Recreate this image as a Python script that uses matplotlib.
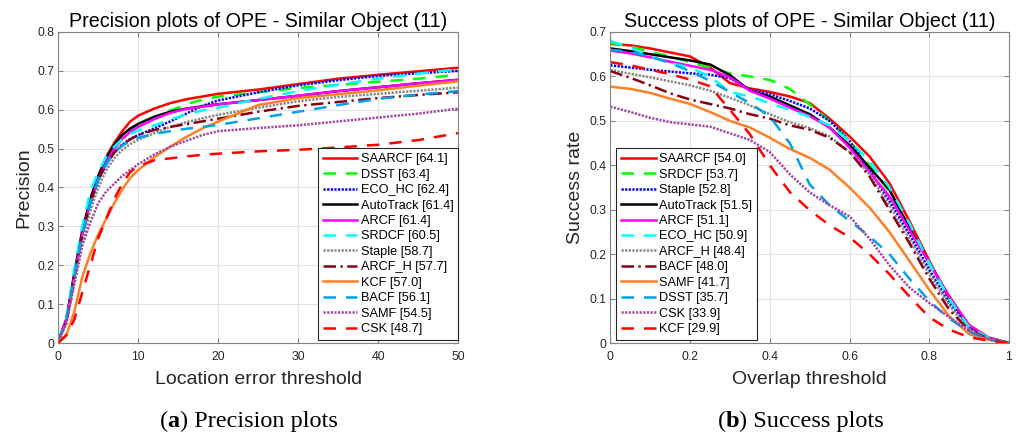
import matplotlib
matplotlib.use("Agg")
import matplotlib.pyplot as plt

# ---------------- data ----------------
# Precision plot: location error thresholds (pixels)
prec_thr = [0, 1, 2, 3, 4, 5, 6, 7, 8, 9, 10, 12, 14, 16, 18, 20, 25, 30, 35, 40, 45, 50]

prec_names = ["SAARCF", "DSST", "ECO_HC", "AutoTrack", "ARCF", "SRDCF",
              "Staple", "ARCF_H", "KCF", "BACF", "SAMF", "CSK"]
prec_scores = [64.1, 63.4, 62.4, 61.4, 61.4, 60.5, 58.7, 57.7, 57.0, 56.1, 54.5, 48.7]

prec_saarcf = [0.005, 0.06, 0.17, 0.28, 0.37, 0.43, 0.48, 0.515, 0.545, 0.570, 0.585, 0.603, 0.617, 0.627, 0.634, 0.641, 0.652, 0.666, 0.680, 0.690, 0.699, 0.708]
prec_dsst = [0.005, 0.06, 0.18, 0.29, 0.37, 0.43, 0.475, 0.51, 0.532, 0.548, 0.558, 0.578, 0.598, 0.614, 0.626, 0.634, 0.645, 0.656, 0.664, 0.672, 0.680, 0.690]
prec_eco_hc = [0.005, 0.055, 0.17, 0.28, 0.36, 0.42, 0.46, 0.49, 0.51, 0.525, 0.535, 0.552, 0.570, 0.590, 0.610, 0.624, 0.645, 0.663, 0.676, 0.687, 0.694, 0.700]
prec_autotrack = [0.005, 0.06, 0.18, 0.29, 0.37, 0.43, 0.475, 0.51, 0.535, 0.552, 0.564, 0.582, 0.595, 0.603, 0.609, 0.614, 0.625, 0.636, 0.648, 0.658, 0.668, 0.677]
prec_arcf = [0.005, 0.06, 0.17, 0.28, 0.36, 0.42, 0.465, 0.50, 0.525, 0.543, 0.556, 0.576, 0.592, 0.602, 0.608, 0.614, 0.625, 0.636, 0.648, 0.658, 0.668, 0.677]
prec_srdcf = [0.005, 0.065, 0.19, 0.30, 0.39, 0.44, 0.48, 0.505, 0.525, 0.538, 0.547, 0.560, 0.575, 0.588, 0.598, 0.605, 0.628, 0.648, 0.665, 0.680, 0.693, 0.704]
prec_staple = [0.005, 0.05, 0.16, 0.26, 0.34, 0.40, 0.445, 0.475, 0.497, 0.512, 0.523, 0.540, 0.556, 0.568, 0.578, 0.587, 0.605, 0.622, 0.633, 0.641, 0.649, 0.657]
prec_arcf_h = [0.005, 0.055, 0.17, 0.28, 0.36, 0.42, 0.46, 0.49, 0.510, 0.524, 0.535, 0.548, 0.556, 0.563, 0.570, 0.577, 0.595, 0.610, 0.620, 0.630, 0.638, 0.645]
prec_kcf = [0.005, 0.02, 0.08, 0.17, 0.23, 0.28, 0.32, 0.36, 0.395, 0.425, 0.445, 0.478, 0.505, 0.530, 0.552, 0.570, 0.612, 0.630, 0.640, 0.650, 0.662, 0.673]
prec_bacf = [0.005, 0.055, 0.17, 0.28, 0.36, 0.42, 0.46, 0.49, 0.508, 0.520, 0.528, 0.538, 0.545, 0.551, 0.556, 0.561, 0.578, 0.595, 0.612, 0.628, 0.639, 0.648]
prec_samf = [0.005, 0.05, 0.15, 0.25, 0.31, 0.36, 0.39, 0.41, 0.43, 0.445, 0.46, 0.485, 0.505, 0.52, 0.535, 0.545, 0.553, 0.560, 0.570, 0.580, 0.590, 0.603]
prec_csk = [0.0, 0.02, 0.06, 0.13, 0.20, 0.27, 0.32, 0.37, 0.41, 0.44, 0.455, 0.470, 0.475, 0.480, 0.484, 0.487, 0.493, 0.497, 0.503, 0.510, 0.522, 0.540]

# Success plot: overlap thresholds
succ_thr = [0.0, 0.05, 0.1, 0.15, 0.2, 0.25, 0.3, 0.35, 0.4, 0.45, 0.5,
            0.55, 0.6, 0.65, 0.7, 0.75, 0.8, 0.85, 0.9, 0.95, 1.0]

succ_names = ["SAARCF", "SRDCF", "Staple", "AutoTrack", "ARCF", "ECO_HC",
              "ARCF_H", "BACF", "SAMF", "DSST", "CSK", "KCF"]
succ_scores = [54.0, 53.7, 52.8, 51.5, 51.1, 50.9, 48.4, 48.0, 41.7, 35.7, 33.9, 29.9]

succ_saarcf = [0.673, 0.670, 0.663, 0.654, 0.645, 0.620, 0.585, 0.573, 0.565, 0.555, 0.540, 0.505, 0.465, 0.420, 0.360, 0.275, 0.185, 0.100, 0.040, 0.012, 0.0]
succ_srdcf = [0.675, 0.668, 0.655, 0.645, 0.632, 0.620, 0.607, 0.600, 0.592, 0.572, 0.537, 0.500, 0.455, 0.400, 0.340, 0.260, 0.180, 0.100, 0.035, 0.012, 0.0]
succ_staple = [0.625, 0.620, 0.615, 0.611, 0.607, 0.604, 0.596, 0.570, 0.560, 0.545, 0.528, 0.500, 0.455, 0.390, 0.320, 0.245, 0.165, 0.090, 0.035, 0.010, 0.0]
succ_autotrack = [0.663, 0.657, 0.650, 0.643, 0.636, 0.627, 0.603, 0.568, 0.555, 0.535, 0.515, 0.485, 0.445, 0.395, 0.345, 0.260, 0.180, 0.105, 0.038, 0.010, 0.0]
succ_arcf = [0.658, 0.652, 0.643, 0.633, 0.624, 0.615, 0.598, 0.568, 0.550, 0.530, 0.511, 0.485, 0.440, 0.385, 0.330, 0.255, 0.180, 0.105, 0.040, 0.012, 0.0]
succ_eco_hc = [0.680, 0.665, 0.645, 0.630, 0.620, 0.600, 0.565, 0.555, 0.540, 0.525, 0.509, 0.490, 0.455, 0.410, 0.350, 0.270, 0.180, 0.100, 0.035, 0.012, 0.0]
succ_arcf_h = [0.615, 0.606, 0.598, 0.589, 0.580, 0.568, 0.552, 0.535, 0.515, 0.497, 0.484, 0.465, 0.430, 0.380, 0.310, 0.235, 0.155, 0.085, 0.030, 0.010, 0.0]
succ_bacf = [0.612, 0.597, 0.580, 0.562, 0.548, 0.538, 0.528, 0.515, 0.505, 0.490, 0.480, 0.462, 0.430, 0.375, 0.300, 0.225, 0.145, 0.075, 0.028, 0.010, 0.0]
succ_samf = [0.577, 0.572, 0.563, 0.550, 0.538, 0.520, 0.500, 0.485, 0.462, 0.437, 0.417, 0.390, 0.350, 0.305, 0.250, 0.185, 0.120, 0.060, 0.020, 0.007, 0.0]
succ_dsst = [0.660, 0.655, 0.645, 0.630, 0.612, 0.590, 0.565, 0.540, 0.510, 0.450, 0.357, 0.310, 0.275, 0.240, 0.200, 0.145, 0.095, 0.055, 0.025, 0.008, 0.0]
succ_csk = [0.532, 0.520, 0.507, 0.497, 0.492, 0.487, 0.472, 0.457, 0.430, 0.380, 0.339, 0.310, 0.285, 0.235, 0.175, 0.125, 0.090, 0.058, 0.028, 0.008, 0.0]
succ_kcf = [0.632, 0.625, 0.615, 0.605, 0.593, 0.578, 0.525, 0.470, 0.400, 0.340, 0.299, 0.265, 0.238, 0.200, 0.155, 0.105, 0.058, 0.030, 0.013, 0.005, 0.0]

prec_curves = [prec_saarcf, prec_dsst, prec_eco_hc, prec_autotrack, prec_arcf, prec_srdcf,
               prec_staple, prec_arcf_h, prec_kcf, prec_bacf, prec_samf, prec_csk]
succ_curves = [succ_saarcf, succ_srdcf, succ_staple, succ_autotrack, succ_arcf, succ_eco_hc,
               succ_arcf_h, succ_bacf, succ_samf, succ_dsst, succ_csk, succ_kcf]

# ---------------- styling ----------------
# rank-based colour / line style, as in the OTB toolkit
rank_colors = ["#ff0000", "#00ff00", "#0000ff", "#000000", "#ff00ff", "#00ffff",
               "#888888", "#880015", "#ff7f27", "#00a2e8", "#a349a4", "#ff0000"]
DASH = (0, (5.0, 4.0))
DOT = (0, (0.9, 0.55))
DASHDOT = (0, (5.0, 1.8, 0.9, 1.8))
rank_styles = ["-", DASH, DOT, "-", "-", DASH, DOT, DASHDOT, "-", DASH, DOT, DASH]
LW = 1.8

SANS = ["Liberation Sans", "DejaVu Sans"]
SERIF = ["Liberation Serif", "DejaVu Serif"]
plt.rcParams["font.family"] = SANS
TICK_COLOR = "#262626"
EDGE_COLOR = "#858585"

W, H = 1016, 436
fig = plt.figure(figsize=(W / 100, H / 100), dpi=100)


def px_rect(x0, y0, x1, y1):
    return [x0 / W, 1 - y1 / H, (x1 - x0) / W, (y1 - y0) / H]


def style_axes(ax, xlim, ylim, xticks, yticks, xticklabels, yticklabels):
    ax.set_xlim(*xlim)
    ax.set_ylim(*ylim)
    ax.set_xticks(xticks)
    ax.set_yticks(yticks)
    ax.set_xticklabels(xticklabels)
    ax.set_yticklabels(yticklabels)
    ax.grid(True, color="#e3e3e3", linewidth=0.8)
    ax.set_axisbelow(True)
    for s in ax.spines.values():
        s.set_color(EDGE_COLOR)
        s.set_linewidth(0.8)
    ax.tick_params(direction="in", length=3.5, width=0.8, color=EDGE_COLOR,
                   labelcolor=TICK_COLOR, labelsize=8.8, top=True, right=True)
    ax.tick_params(axis="x", pad=6.0)
    ax.tick_params(axis="y", pad=3.0)


def draw_curves(ax, thr, curves, names, scores):
    handles = []
    for i, (vals, name, sc) in enumerate(zip(curves, names, scores)):
        h, = ax.plot(thr, vals, color=rank_colors[i], linestyle=rank_styles[i],
                     linewidth=LW, label=f"{name} [{sc:.1f}]")
        handles.append(h)
    return handles


leg_kw = dict(fontsize=9.2, frameon=True, fancybox=False, framealpha=1,
              edgecolor="#262626", labelspacing=0.27, borderpad=0.38,
              handlelength=2.7, handletextpad=0.27, borderaxespad=0)

# ---- (a) precision ----
ax1 = fig.add_axes(px_rect(58.3, 32, 458.3, 343))
style_axes(ax1, (0, 50), (0, 0.8), range(0, 51, 10), [i / 10 for i in range(9)],
           [str(v) for v in range(0, 51, 10)],
           ["0"] + [f"{i / 10:.1f}" for i in range(1, 9)])
h1 = draw_curves(ax1, prec_thr, prec_curves, prec_names, prec_scores)
lg1 = ax1.legend(handles=h1, loc="lower right", bbox_to_anchor=(1.0, 3 / 311), **leg_kw)
lg1.get_frame().set_linewidth(0.8)

# ---- (b) success ----
ax2 = fig.add_axes(px_rect(610.3, 32, 1009, 343))
style_axes(ax2, (0, 1), (0, 0.7), [i / 5 for i in range(6)], [i / 10 for i in range(8)],
           ["0", "0.2", "0.4", "0.6", "0.8", "1"],
           ["0"] + [f"{i / 10:.1f}" for i in range(1, 8)])
h2 = draw_curves(ax2, succ_thr, succ_curves, succ_names, succ_scores)
lg2 = ax2.legend(handles=h2, loc="lower left", bbox_to_anchor=(6 / 399, 3 / 311), **leg_kw)
lg2.get_frame().set_linewidth(0.8)

# ---- titles and axis labels ----
def ftext(xpx, ypx, s, **kw):
    return fig.text(xpx / W, 1 - ypx / H, s, **kw)


ftext(258.3, 27, "Precision plots of OPE - Similar Object (11)", ha="center", va="baseline",
      fontsize=14.2, color="black")
ftext(809.7, 27, "Success plots of OPE - Similar Object (11)", ha="center", va="baseline",
      fontsize=14.2, color="black")
ftext(258.3, 384, "Location error threshold", ha="center", va="baseline", fontsize=14,
      color=TICK_COLOR)
ftext(809.7, 384, "Overlap threshold", ha="center", va="baseline", fontsize=14,
      color=TICK_COLOR)
ftext(24, 187.5, "Precision", ha="center", va="center", rotation=90, fontsize=14,
      color=TICK_COLOR)
ftext(575, 187.5, "Success rate", ha="center", va="center", rotation=90, fontsize=14,
      color=TICK_COLOR)


# ---- sub-figure captions with a bold letter ----
def caption(center_px, base_px, letter, rest, size=17.5):
    parts = [("(", "normal"), (letter, "bold"), (") " + rest, "normal")]
    texts = [ftext(0, base_px, s, ha="left", va="baseline", fontsize=size,
                   fontweight=w, family=SERIF, color="black") for s, w in parts]
    fig.canvas.draw()
    r = fig.canvas.get_renderer()
    widths = [t.get_window_extent(r).width for t in texts]
    x = center_px - sum(widths) / 2
    for t, w in zip(texts, widths):
        t.set_x(x / W)
        x += w


caption(248.5, 427, "a", "Precision plots")
caption(800.8, 427, "b", "Success plots")

fig.savefig("out.png", dpi=100)
